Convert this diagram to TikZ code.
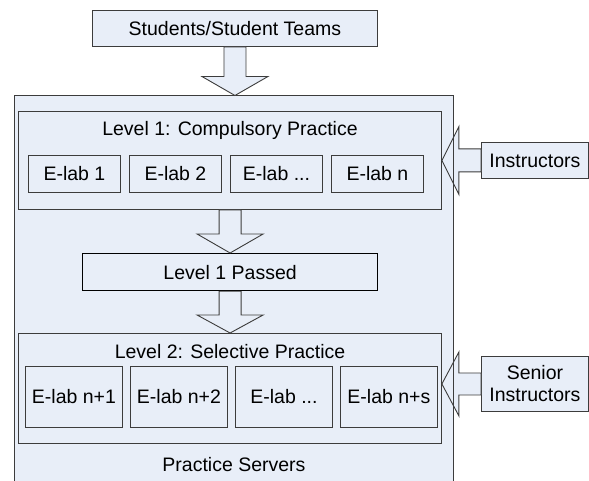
\documentclass[tikz,border=0pt]{standalone}
\usepackage{fontspec}
\setmainfont{Liberation Sans}
\usetikzlibrary{calc}
\definecolor{boxfill}{RGB}{232,238,248}
\definecolor{boxline}{RGB}{60,60,60}
\tikzset{
  box/.style={draw=boxline, fill=boxfill, line width=0.9pt, rectangle, inner sep=0pt, anchor=north west, align=center},
  lbl/.style={inner sep=0pt, align=center},
  barrow/.style={draw=boxline, fill=boxfill, line width=0.9pt, line join=miter},
}
\begin{document}
\begin{tikzpicture}[x=1pt, y=-1pt, font=\fontsize{19.5}{22}\selectfont]
\useasboundingbox (0,0) rectangle (589,481);
% outer container
\node[box, minimum width=439pt, minimum height=390pt] (srv) at (13.5,95.5) {};
\node[lbl] (srvlbl) at (234,465) {Practice Servers};
% top box
\node[box, minimum width=285pt, minimum height=36pt] (stu) at (92,10) {Students/Student Teams};
% level 1
\node[box, minimum width=423pt, minimum height=98pt] (lvl1) at (18,111) {};
\node[lbl] (lvl1t) at (230,130) {Level 1: Compulsory Practice};
\node[box, minimum width=92pt, minimum height=37pt] (e1) at (28,155) {E-lab 1};
\node[box, minimum width=92pt, minimum height=37pt] (e2) at (129,155) {E-lab 2};
\node[box, minimum width=92pt, minimum height=37pt] (e3) at (230,155) {E-lab ...};
\node[box, minimum width=92pt, minimum height=37pt] (e4) at (331,155) {E-lab n};
% passed
\node[box, draw=black, line width=1.2pt, minimum width=295pt, minimum height=37pt] (pass) at (82,253) {Level 1 Passed};
% level 2
\node[box, minimum width=423pt, minimum height=110pt] (lvl2) at (18,333) {};
\node[lbl] (lvl2t) at (230,352) {Level 2: Selective Practice};
\node[box, minimum width=97pt, minimum height=61pt] (f1) at (25,366) {E-lab n+1};
\node[box, minimum width=97pt, minimum height=61pt] (f2) at (130,366) {E-lab n+2};
\node[box, minimum width=97pt, minimum height=61pt] (f3) at (235,366) {E-lab ...};
\node[box, minimum width=97pt, minimum height=61pt] (f4) at (340,366) {E-lab n+s};
% side boxes
\node[box, minimum width=107pt, minimum height=36pt] (ins) at (481,142) {Instructors};
\node[box, minimum width=107pt, minimum height=55pt] (sen) at (481,356) {Senior\\Instructors};
% down arrows
\draw[barrow] let \p1=(stu.south), \p2=(stu.south |- srv.north) in
  (\x1-11pt,\y1) -- (\x1-11pt,\y2+19pt) -- (\x1-33pt,\y2+19pt) -- (\x1,\y2)
  -- (\x1+33pt,\y2+19pt) -- (\x1+11pt,\y2+19pt) -- (\x1+11pt,\y1) -- cycle;
\draw[barrow] let \p1=(lvl1.south |- lvl1.south), \p2=(pass.north) in
  (\x2-11pt,\y1) -- (\x2-11pt,\y2+19pt) -- (\x2-33pt,\y2+19pt) -- (\x2,\y2)
  -- (\x2+33pt,\y2+19pt) -- (\x2+11pt,\y2+19pt) -- (\x2+11pt,\y1) -- cycle;
\draw[barrow] let \p1=(pass.south), \p2=(pass.south |- lvl2.north) in
  (\x1-11pt,\y1) -- (\x1-11pt,\y2+18pt) -- (\x1-33pt,\y2+18pt) -- (\x1,\y2)
  -- (\x1+33pt,\y2+18pt) -- (\x1+11pt,\y2+18pt) -- (\x1+11pt,\y1) -- cycle;
% side arrows
\draw[barrow] let \p1=(ins.west), \p2=(lvl1.east |- ins.west) in
  (\x1,\y1+11.5pt) -- (\x2+17pt,\y1+11.5pt) -- (\x2+17pt,\y1+34pt) -- (\x2,\y1)
  -- (\x2+17pt,\y1-34pt) -- (\x2+17pt,\y1-11.5pt) -- (\x1,\y1-11.5pt) -- cycle;
\draw[barrow] let \p1=(sen.west), \p2=(lvl2.east |- sen.west) in
  (\x1,\y1+11pt) -- (\x2+17pt,\y1+11pt) -- (\x2+17pt,\y1+32pt) -- (\x2,\y1)
  -- (\x2+17pt,\y1-32pt) -- (\x2+17pt,\y1-11pt) -- (\x1,\y1-11pt) -- cycle;
% outer right edge drawn over the side arrows
\draw[draw=boxline, line width=0.9pt] (srv.north east) -- (srv.south east);
\end{tikzpicture}
\end{document}
